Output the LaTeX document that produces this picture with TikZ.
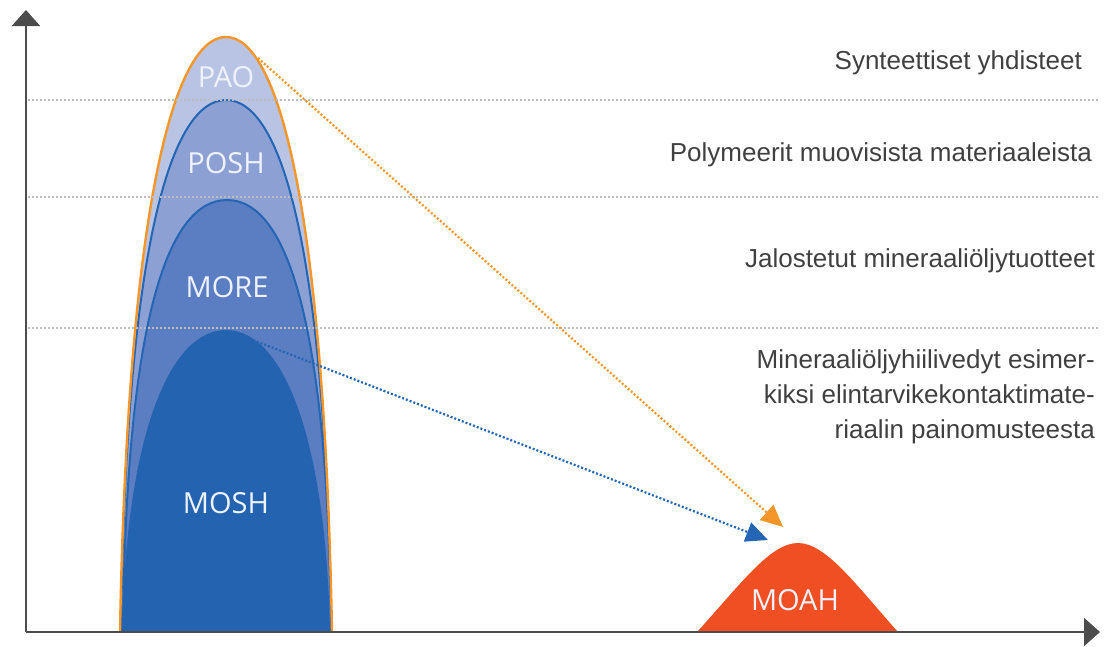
\documentclass[tikz,border=0pt]{standalone}
\usepackage{fontspec}
\setmainfont{Liberation Sans}
\newfontfamily\labelfont{Open Sans}
\usetikzlibrary{arrows.meta}

\definecolor{paofill}{HTML}{B9C4E4}
\definecolor{poshfill}{HTML}{8DA0D3}
\definecolor{morefill}{HTML}{5B7DC2}
\definecolor{moshfill}{HTML}{2363AF}
\definecolor{peakline}{HTML}{2466B3}
\definecolor{paoline}{HTML}{F5962A}
\definecolor{moahfill}{HTML}{F04E23}
\definecolor{desctext}{HTML}{404040}
\definecolor{levelgray}{HTML}{BDBDBD}
\definecolor{labeltext}{HTML}{EEF2FB}

\tikzset{
  axis/.style={line width=2pt, draw=black!70, -{Triangle[length=16pt,width=28pt]}},
  levelline/.style={levelgray, line width=1.6pt, dash pattern=on 2pt off 2pt},
  peaklabel/.style={text=labeltext, font=\labelfont\fontsize{29}{32}\selectfont, inner sep=0pt},
  desc/.style={text=desctext, font=\fontsize{26}{35}\selectfont, inner sep=0pt, align=right, anchor=east},
  shiftarrow/.style={line width=2.2pt, dash pattern=on 2pt off 2pt}
}

\begin{document}
\begin{tikzpicture}[x=1pt, y=-1pt]
  \useasboundingbox (0,0) rectangle (1108,646);

  % --- axes
  \coordinate (origin) at (26,632);
  \coordinate (ytip) at (26,10);
  \coordinate (xtip) at (1100,632);

  % --- nested peaks, largest first
  \fill[paofill] (120,632) .. controls (128,200) and (175,37) .. (226,37)
    .. controls (277,37) and (324,200) .. (332,632) -- cycle;
  \filldraw[fill=poshfill, draw=peakline, line width=2pt]
    (121,632) .. controls (126,240) and (172,100) .. (226,100)
    .. controls (280,100) and (326,240) .. (331,632);
  \filldraw[fill=morefill, draw=peakline, line width=2pt]
    (123,632) .. controls (126,330) and (165,200) .. (227,200)
    .. controls (289,200) and (328,330) .. (331,632);
  \fill[moshfill] (122,632) .. controls (126,440) and (168,330) .. (226,330)
    .. controls (284,330) and (326,440) .. (330,632) -- cycle;
  \draw[paoline, line width=2.4pt] (120,632) .. controls (128,200) and (175,37) .. (226,37)
    .. controls (277,37) and (324,200) .. (332,632);

  % --- MOAH peak
  \fill[moahfill] (697,632) .. controls (740,585) and (770,543) .. (798,543)
    .. controls (826,543) and (856,585) .. (898,632) -- cycle;

  % --- dotted level lines
  \foreach \yy in {100,197,328}{
    \draw[levelline] (28,\yy) -- (1098,\yy);
  }

  \draw[axis] (origin) -- (ytip);
  \draw[axis] (origin) -- (xtip);

  % --- peak labels
  \node[peaklabel] (pao) at (226,77) {PAO};
  \node[peaklabel] (posh) at (226,163) {POSH};
  \node[peaklabel] (more) at (227,287) {MORE};
  \node[peaklabel] (mosh) at (226,503) {MOSH};
  \node[peaklabel] (moah) at (795,600) {MOAH};

  % --- arrows towards MOAH
  \coordinate (paostart) at (258,58);
  \coordinate (paoend) at (783,527);
  \coordinate (moshstart) at (253,340);
  \coordinate (moshend) at (768,540);
  \draw[shiftarrow, paoline, -{Triangle[length=22pt,width=20pt]}] (paostart) -- (paoend);
  \draw[shiftarrow, peakline, -{Triangle[length=22pt,width=20pt]}] (moshstart) -- (moshend);

  % --- descriptions
  \node[desc] (synt) at (1082,63) {Synteettiset yhdisteet};
  \node[desc] (poly) at (1092,155) {Polymeerit muovisista materiaaleista};
  \node[desc] (jalo) at (1095,261) {Jalostetut mineraaliöljytuotteet};
  \node[desc] (mine) at (1095,397) {Mineraaliöljyhiilivedyt esimer-\\kiksi elintarvikekontaktimate-\\riaalin painomusteesta};
\end{tikzpicture}
\end{document}
